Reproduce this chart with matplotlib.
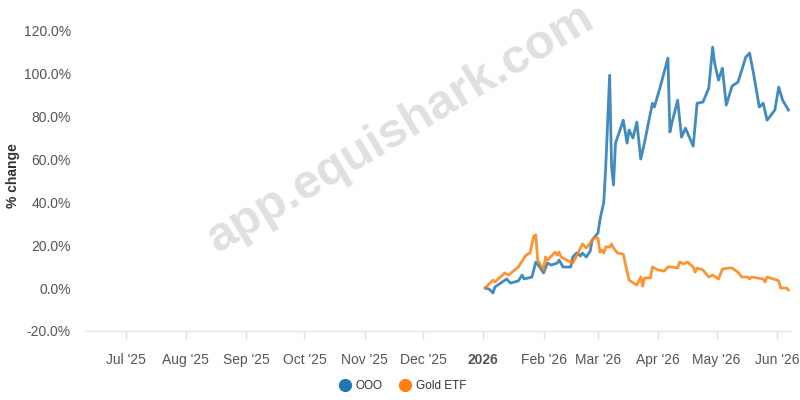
import numpy as np
import pandas as pd
import matplotlib
matplotlib.use("Agg")
import matplotlib.pyplot as plt
from matplotlib.lines import Line2D

plt.rcParams['font.family'] = ['Liberation Sans', 'DejaVu Sans']

# OOO, % change since start
ooo_dates = ['2026-01-02', '2026-01-04', '2026-01-06', '2026-01-07', '2026-01-13', '2026-01-15',
             '2026-01-19', '2026-01-21', '2026-01-22', '2026-01-26', '2026-01-28', '2026-01-30',
             '2026-02-01', '2026-02-03', '2026-02-05', '2026-02-08', '2026-02-09', '2026-02-11',
             '2026-02-15', '2026-02-16', '2026-02-18', '2026-02-20', '2026-02-21', '2026-02-23',
             '2026-02-25', '2026-02-26', '2026-03-01', '2026-03-02', '2026-03-04', '2026-03-05',
             '2026-03-07', '2026-03-08', '2026-03-09', '2026-03-10', '2026-03-12', '2026-03-14',
             '2026-03-16', '2026-03-17', '2026-03-19', '2026-03-21', '2026-03-23', '2026-03-25',
             '2026-03-29', '2026-03-30', '2026-04-02', '2026-04-06', '2026-04-07', '2026-04-08',
             '2026-04-11', '2026-04-13', '2026-04-15', '2026-04-17', '2026-04-19', '2026-04-21',
             '2026-04-24', '2026-04-27', '2026-04-29', '2026-04-30', '2026-05-02', '2026-05-04',
             '2026-05-06', '2026-05-09', '2026-05-12', '2026-05-14', '2026-05-16', '2026-05-18',
             '2026-05-20', '2026-05-23', '2026-05-25', '2026-05-27', '2026-05-31', '2026-06-02',
             '2026-06-04', '2026-06-07']
ooo_values = [0.0, -0.5, -2.3, 0.5, 4.2, 2.3,
              3.3, 6.0, 4.2, 5.1, 12.1, 9.8,
              7.0, 11.6, 10.7, 11.6, 13.0, 9.8,
              9.8, 14.4, 16.3, 14.9, 16.3, 14.4,
              17.2, 22.3, 25.6, 31.6, 40.0, 56.3,
              99.0, 56.3, 47.9, 67.4, 72.6, 78.1,
              67.4, 73.5, 69.8, 77.2, 60.0, 67.9,
              86.0, 84.2, 93.5, 107.0, 72.6, 76.7,
              87.4, 70.2, 74.4, 70.2, 66.0, 86.0,
              86.5, 93.0, 112.1, 104.7, 96.7, 102.3,
              85.1, 94.0, 95.8, 101.4, 107.4, 109.3,
              100.0, 84.2, 86.0, 78.1, 82.8, 93.5,
              87.4, 82.8]

# Gold ETF, % change since start
gold_dates = ['2026-01-02', '2026-01-06', '2026-01-07', '2026-01-12', '2026-01-14', '2026-01-19',
              '2026-01-23', '2026-01-25', '2026-01-27', '2026-01-28', '2026-01-29', '2026-02-01',
              '2026-02-02', '2026-02-03', '2026-02-07', '2026-02-08', '2026-02-09', '2026-02-10',
              '2026-02-16', '2026-02-19', '2026-02-21', '2026-02-23', '2026-02-27', '2026-03-01',
              '2026-03-02', '2026-03-03', '2026-03-04', '2026-03-05', '2026-03-07', '2026-03-08',
              '2026-03-09', '2026-03-11', '2026-03-14', '2026-03-17', '2026-03-20', '2026-03-21',
              '2026-03-23', '2026-03-24', '2026-03-25', '2026-03-28', '2026-03-29', '2026-04-01',
              '2026-04-04', '2026-04-06', '2026-04-08', '2026-04-11', '2026-04-12', '2026-04-14',
              '2026-04-16', '2026-04-19', '2026-04-20', '2026-04-21', '2026-04-24', '2026-04-27',
              '2026-04-29', '2026-05-02', '2026-05-04', '2026-05-07', '2026-05-09', '2026-05-12',
              '2026-05-14', '2026-05-17', '2026-05-18', '2026-05-19', '2026-05-25', '2026-05-26',
              '2026-05-27', '2026-06-01', '2026-06-02', '2026-06-03', '2026-06-06', '2026-06-07']
gold_values = [0.0, 3.7, 2.8, 7.0, 6.0, 9.8,
               15.3, 16.3, 24.2, 24.7, 13.0, 8.4,
               14.4, 13.0, 16.7, 15.3, 16.7, 14.4,
               11.6, 16.7, 20.5, 18.6, 23.3, 23.3,
               16.7, 17.7, 16.3, 19.1, 19.1, 20.5,
               18.6, 16.3, 15.8, 3.7, 1.9, 1.4,
               5.1, 0.9, 4.7, 4.7, 9.8, 8.4,
               7.9, 9.8, 9.8, 9.3, 12.1, 11.2,
               12.1, 9.8, 7.4, 9.3, 8.4, 5.1,
               6.0, 4.2, 8.8, 9.3, 9.3, 7.4,
               5.1, 5.1, 4.2, 5.1, 4.2, 2.8,
               5.1, 3.7, 3.3, 0.0, 0.0, -0.9]

tick_dates = ['2025-07-01', '2025-08-01', '2025-09-01', '2025-10-01', '2025-11-01', '2025-12-01',
              '2026-01-01', '2026-02-01', '2026-03-01', '2026-04-01', '2026-05-01', '2026-06-01']
tick_labels = ["Jul '25", "Aug '25", "Sep '25", "Oct '25", "Nov '25", "Dec '25",
               "2026", "Feb '26", "Mar '26", "Apr '26", "May '26", "Jun '26"]
y_ticks = [-20, 0, 20, 40, 60, 80, 100, 120]

blue = '#1f77b4'
orange = '#ff7f0e'

fig = plt.figure(figsize=(8, 4), dpi=100)
ax = fig.add_axes([0.106, 0.1725, 0.882, 0.779])

# watermark
fig.text(0.501, 0.678, 'app.equishark.com', fontsize=35, fontweight='bold', color='#e0e0e0',
         rotation=31, ha='center', va='center', zorder=0)

ax.plot(pd.to_datetime(ooo_dates), ooo_values, color=blue, alpha=0.85, lw=2.0, zorder=3)
ax.plot(pd.to_datetime(gold_dates), gold_values, color=orange, alpha=0.85, lw=2.0, zorder=3)

ax.set_xlim(pd.Timestamp('2025-06-10'), pd.Timestamp('2026-06-08'))
ax.set_ylim(-20, 125)
ax.patch.set_alpha(0)

ax.set_xticks(pd.to_datetime(tick_dates))
ax.set_xticklabels(tick_labels)
for lab in ax.get_xticklabels():
    if lab.get_text() == '2026':
        lab.set_fontweight('bold')
        lab.set_color('#333333')
ax.set_yticks(y_ticks)
ax.set_yticklabels([f'{v:.1f}%' for v in y_ticks])

for s in ['top', 'right', 'left']:
    ax.spines[s].set_visible(False)
ax.spines['bottom'].set_color('#e6e6e6')
ax.spines['bottom'].set_linewidth(1.0)
ax.tick_params(axis='x', colors='#e0e0e0', length=6, width=1, pad=10, labelsize=10, labelcolor='#555555')
ax.tick_params(axis='y', length=0, pad=10, labelsize=10, labelcolor='#555555')

ax.set_ylabel('% change', fontsize=10, fontweight='bold', color='#333333')
ax.yaxis.set_label_coords(-0.092, 0.5)

handles = [Line2D([], [], marker='o', ls='none', color=blue, markersize=8.5),
           Line2D([], [], marker='o', ls='none', color=orange, markersize=8.5)]
fig.legend(handles, ['OOO', 'Gold ETF'], loc='center', bbox_to_anchor=(0.5, 0.035),
           ncol=2, frameon=False, fontsize=8.5, handletextpad=-0.1, columnspacing=0.9,
           labelcolor='#333333')

fig.savefig('out.png', dpi=100)
